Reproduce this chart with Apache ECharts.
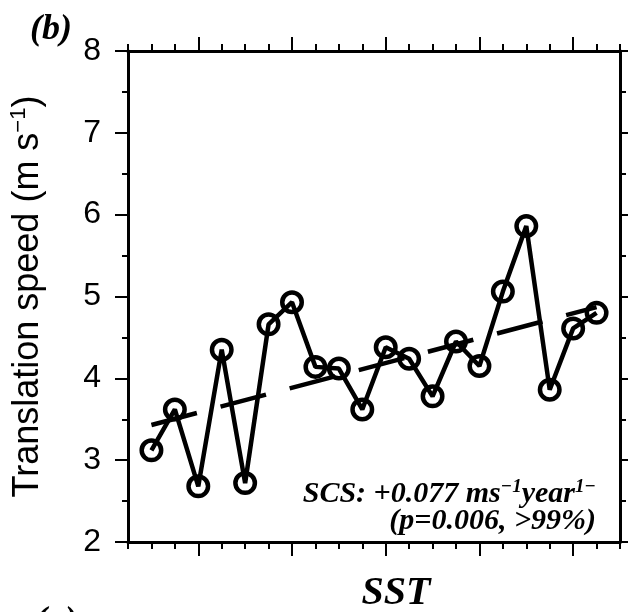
<!DOCTYPE html>
<html><head><meta charset="utf-8">
<script src="https://cdn.jsdelivr.net/npm/echarts@6/dist/echarts.min.js"></script>
<style>html,body{margin:0;padding:0;background:#fff}#c{width:628px;height:612px}</style>
</head><body><div id="c"></div>
<script>
// x positions of the 20 samples on the axis (axis spans 0..21)
const samplePos = [1,2,3,4,5,6,7,8,9,10,11,12,13,14,15,16,17,18,19,20];
// translation speed (m s^-1)
const speed = [3.12,3.62,2.68,4.35,2.72,4.66,4.93,4.14,4.12,3.62,4.38,4.24,3.78,4.45,4.15,5.06,5.86,3.86,4.61,4.80];
// linear trend end points
const trendPos = [1, 20];
const trendVal = [3.43, 4.87];
// tick slots along the x axis (minor every slot, major every 4th from slot 3)
const xSlots = ['0','1','2','3','4','5','6','7','8','9','10','11','12','13','14','15','16','17','18','19','20','21'];
const majorSlots = [3,7,11,15,19];
const yMin = 2, yMax = 8;

const chart = echarts.init(document.getElementById('c'), null, {renderer:'canvas'});
const SANS = '"Liberation Sans", Arial, Helvetica, sans-serif';
const SERIF = '"Liberation Serif", "Times New Roman", serif';
const black = '#000';

function minorX(pos){
  return {
    type:'value', min:0, max:21, interval:1, position:pos,
    axisLine:{show:true, onZero:false, lineStyle:{color:black, width:3}},
    axisTick:{show:true, inside:false, length:7, lineStyle:{color:black, width:2}},
    axisLabel:{show:false}, splitLine:{show:false}
  };
}
function majorX(pos){
  return {
    type:'category', data:xSlots, boundaryGap:false, position:pos,
    axisLine:{show:false},
    axisTick:{show:true, inside:false, length:14, interval:(i)=>majorSlots.includes(i), lineStyle:{color:black, width:2}},
    axisLabel:{show:false}, splitLine:{show:false}
  };
}
function yAx(pos, labels){
  const o = {
    type:'value', min:yMin, max:yMax, interval:1, position:pos,
    axisLine:{show:true, onZero:false, lineStyle:{color:black, width:3}},
    axisTick:{show:true, inside:false, length:13, lineStyle:{color:black, width:2}},
    minorTick:{show:true, splitNumber:2, length:6, lineStyle:{color:black, width:2}},
    axisLabel:{show:labels, fontFamily:SANS, fontSize:32, color:black, margin:27},
    splitLine:{show:false}, minorSplitLine:{show:false}
  };
  if (labels) {
    o.name = '{n|Translation speed (m s}{s|−1}{n|)}';
    o.nameLocation = 'middle';
    o.nameGap = 80;
    o.nameRotate = 90;
    o.nameTextStyle = {
      rich:{
        n:{fontFamily:SANS, fontSize:36, color:black, lineHeight:40},
        s:{fontFamily:SANS, fontSize:22, color:black, lineHeight:18, verticalAlign:'top'}
      }
    };
  }
  return o;
}

const option = {
  backgroundColor:'#fff',
  animation:false,
  grid:{left:125, right:8, top:51, bottom:70, containLabel:false},
  xAxis:[minorX('bottom'), majorX('bottom'), minorX('top'), majorX('top')],
  yAxis:[yAx('left', true), yAx('right', false)],
  series:[
    {
      type:'line', xAxisIndex:0, yAxisIndex:0,
      data: trendPos.map((p,i)=>[p, trendVal[i]]),
      showSymbol:false, symbol:'none',
      lineStyle:{color:black, width:4.5, type:[47,24.5], cap:'butt'},
      silent:true, z:2
    },
    {
      type:'line', xAxisIndex:0, yAxisIndex:0,
      data: samplePos.map((p,i)=>[p, speed[i]]),
      symbol:'circle', symbolSize:19.5,
      itemStyle:{color:'rgba(0,0,0,0)', borderColor:black, borderWidth:4.5},
      lineStyle:{color:black, width:4.5},
      silent:true, z:3
    }
  ],
  graphic:[
    {type:'text', left:30, top:12, style:{text:'(b)', font:'italic bold 36px '+SERIF, fill:black}},
    {type:'text', x:396, y:594, style:{text:'SST', font:'italic bold 40px '+SERIF, fill:black, align:'center', verticalAlign:'middle'}},
    {type:'text', x:35, y:622, style:{text:'(a)', font:'italic bold 36px '+SERIF, fill:black, align:'left', verticalAlign:'middle'}},
    {type:'text', x:596, y:494, style:{
      text:'{t|SCS: +0.077 ms}{s|−1}{t|year}{s|1−}',
      align:'right', verticalAlign:'middle',
      rich:{
        t:{fontFamily:SERIF, fontStyle:'italic', fontWeight:'bold', fontSize:30, fill:black, color:black, lineHeight:32},
        s:{fontFamily:SERIF, fontStyle:'italic', fontWeight:'bold', fontSize:19, fill:black, color:black, lineHeight:16, verticalAlign:'top'}
      }
    }},
    {type:'text', x:596, y:521, style:{text:'(p=0.006, >99%)', font:'italic bold 30px '+SERIF, fill:black, align:'right', verticalAlign:'middle'}}
  ]
};
chart.setOption(option);
</script>
</body></html>
